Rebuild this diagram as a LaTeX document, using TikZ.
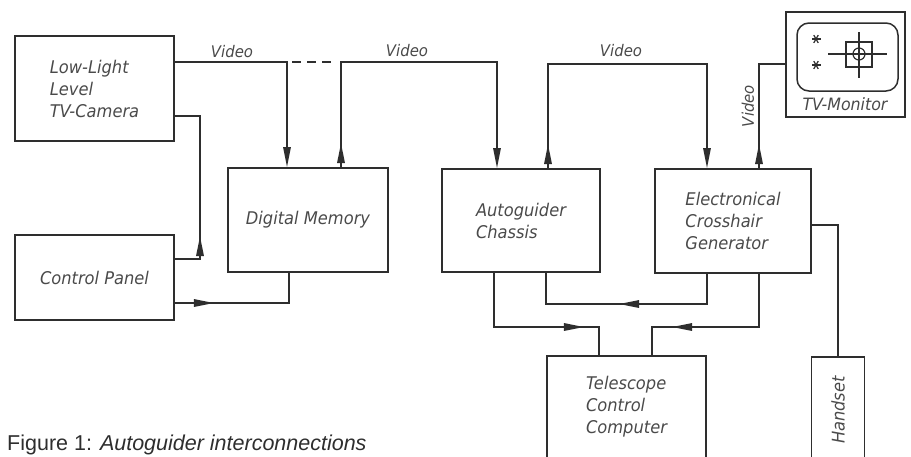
\documentclass[tikz,border=0pt]{standalone}
\usepackage{fontspec}
\usepackage{graphicx}
\usetikzlibrary{arrows.meta,decorations.markings}
\newfontfamily\lett[FakeStretch=0.93]{DejaVu Sans}
\newfontfamily\capfont{Liberation Sans}
\definecolor{linec}{HTML}{2E2E2E}
\definecolor{textc}{HTML}{4A4A4A}
\tikzset{
  x=1pt, y=-1pt,
  blk/.style={draw=linec, line width=1.9pt, inner sep=0pt, align=left, text=textc,
    font=\lett\itshape\fontsize{17.5}{22}\selectfont},
  wire/.style={draw=linec, line width=1.5pt},
  tip/.style={-{Triangle[length=20pt,width=7.5pt]}},
  marrow/.style={postaction={decorate}, decoration={markings,
    mark=at position #1 with {\arrow{Triangle[length=20pt,width=7.5pt]}}}},
  lbl/.style={text=textc, inner sep=0pt, font=\lett\itshape\fontsize{16}{18}\selectfont},
}
\begin{document}
\begin{tikzpicture}
\useasboundingbox (0,0) rectangle (911,456);
% boxes
\node[blk, minimum width=159pt, minimum height=105pt] (cam) at (94.5,88.5) {Low-Light\\Level\\TV-Camera};
\node[blk, minimum width=159pt, minimum height=85pt] (cp) at (94.5,277.5) {Control Panel};
\node[blk, minimum width=160pt, minimum height=104pt] (dm) at (308,220) {Digital Memory};
\node[blk, minimum width=158pt, minimum height=103pt] (ag) at (521,220.5) {Autoguider\\Chassis};
\node[blk, minimum width=156pt, minimum height=104pt] (ecg) at (733,221) {Electronical\\Crosshair\\Generator};
\node[blk, minimum width=119pt, minimum height=105pt] (mon) at (845.5,64.5) {};
\node[blk, minimum width=159pt, minimum height=102pt] (tcc) at (626.5,407) {Telescope\\Control\\Computer};
\node[blk, minimum width=53pt, minimum height=106pt] (hs) at (838,410) {\rotatebox{90}{Handset}};
% monitor contents
\node[lbl, font=\lett\itshape\fontsize{17}{18}\selectfont] (montext) at (845,104) {TV-Monitor};
\draw[wire, line width=1.5pt, rounded corners=12pt] (797,23) rectangle (898,91);
\foreach \yy in {39,65} {
  \foreach \aa in {0,60,120} {
    \draw[linec, line width=1.2pt] (816,\yy) ++(\aa:4.5pt) -- ++(\aa+180:9pt);
  }
}
\draw[linec, line width=1.2pt] (828,54) -- (887,54);
\draw[linec, line width=1.2pt] (859,32) -- (859,78);
\draw[linec, line width=1.2pt] (846,42) rectangle (872,67);
\draw[linec, line width=1.2pt] (859,54) circle (6pt);
% video connections
\draw[wire, tip] (cam.east |- 0,62) -| (dm.north -| 287,0);
\draw[wire, dash pattern=on 9pt off 6pt] (292,62) -- (334,62);
\draw[wire, tip, marrow=24pt] (dm.north -| 341,0) -- (341,62) -- (497,62) -- (ag.north -| 497,0);
\draw[wire, tip, marrow=24pt] (ag.north -| 548,0) -- (548,64) -- (707,64) -- (ecg.north -| 707,0);
\draw[wire, marrow=24pt] (ecg.north -| 759,0) -- (759,64) -- (mon.west |- 0,64);
% control connections
\draw[wire, marrow=48pt] (cp.east |- 0,259) -- (200,259) -- (200,116) -- (cam.east |- 0,116);
\draw[wire, marrow=39pt] (cp.east |- 0,303) -- (289,303) -- (dm.south -| 289,0);
\draw[wire, marrow=144pt] (ag.south -| 494,0) -- (494,327) -- (599,327) -- (tcc.north -| 599,0);
\draw[wire, marrow=118pt] (ecg.south -| 707,0) -- (707,304) -- (546,304) -- (ag.south -| 546,0);
\draw[wire, marrow=140pt] (ecg.south -| 759,0) -- (759,327) -- (652,327) -- (tcc.north -| 652,0);
\draw[wire] (ecg.east |- 0,225) -- (838,225) -- (hs.north);
% labels
\node[lbl] (v1) at (232,52) {Video};
\node[lbl] (v2) at (407,51) {Video};
\node[lbl] (v3) at (621,51) {Video};
\node[lbl, rotate=90] (v4) at (748,106) {Video};
% caption
\node[anchor=base west, inner sep=0pt, text=linec, font=\capfont\fontsize{21.5}{24}\selectfont] (cap) at (7,450) {Figure 1: \textit{Autoguider interconnections}};
\end{tikzpicture}
\end{document}
